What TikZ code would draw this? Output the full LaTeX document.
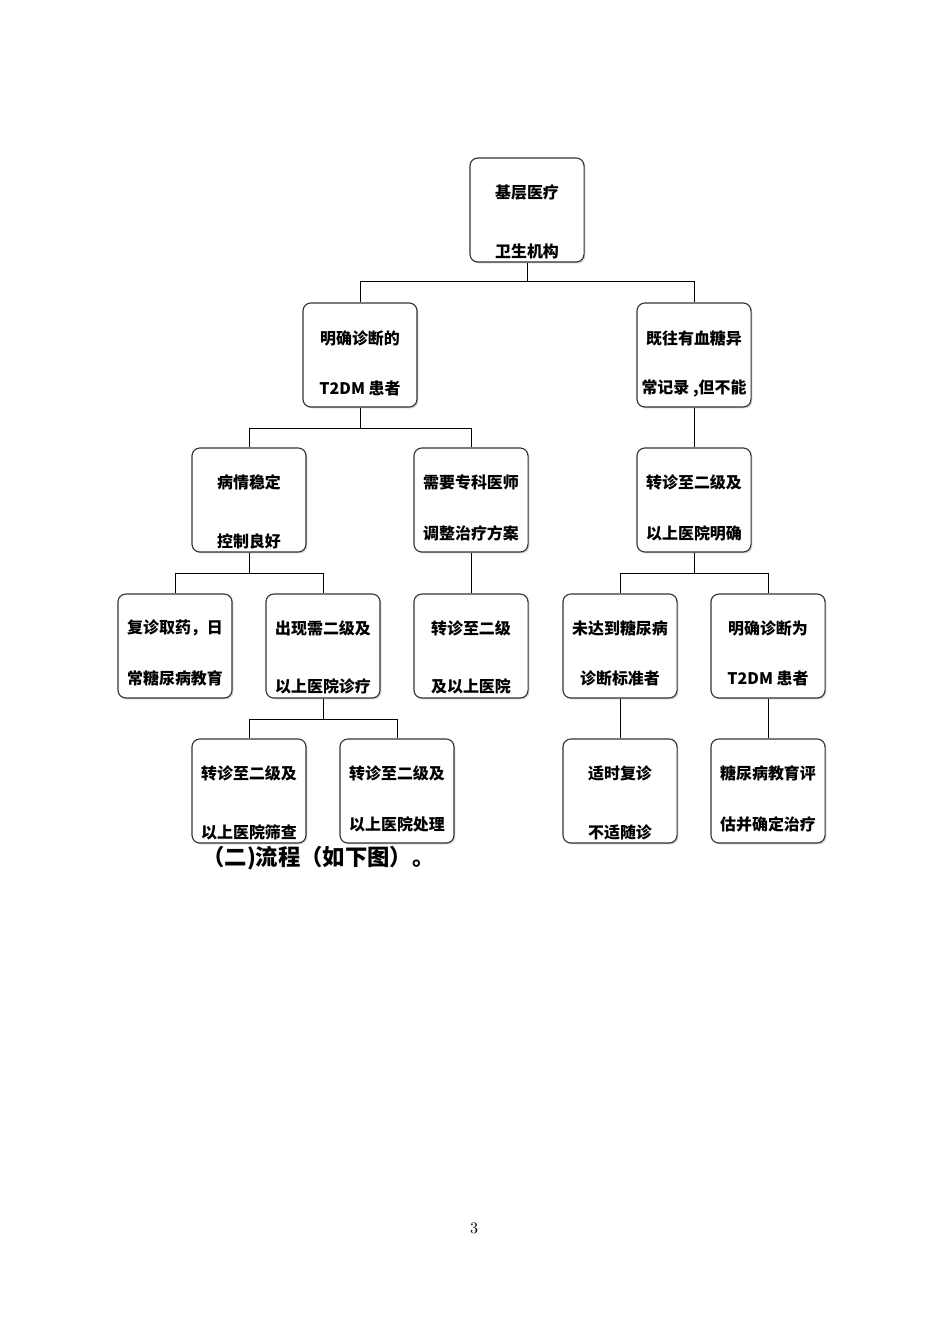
\documentclass[tikz,border=0pt]{standalone}
\usepackage{fontspec}
\newfontfamily\cjk{Noto Sans CJK SC}
\usetikzlibrary{shadows}

\begin{document}
\begin{tikzpicture}[x=0.6266pt,y=-0.6266pt,
    box/.style={draw=black!80,line width=0.7pt,rounded corners=5pt,fill=white,
      minimum width=71.5pt,minimum height=65.2pt,
      drop shadow={shadow xshift=0.9pt,shadow yshift=-0.9pt,opacity=0.35}},
    txt/.style={inner sep=0pt,font=\cjk\bfseries\fontsize{10}{12}\selectfont},
    link/.style={line width=0.6pt}]
                      \useasboundingbox (0,0) rectangle (950,1344);
                      % boxes
                      \node[box](top)at(527,210){};
                      \node[txt](top1)at(527,192){基层医疗};
                      \node[txt](top2)at(527,251){卫生机构};
                      \node[box](mz)at(360,355){};
                      \node[txt](mz1)at(360,338){明确诊断的};
                      \node[txt](mz2)at(360,388){T2DM 患者};
                      \node[box](jw)at(694,355){};
                      \node[txt](jw1)at(694,338){既往有血糖异};
                      \node[txt](jw2)at(694,388){常记录 ,但不能};
                      \node[box](bq)at(249,500){};
                      \node[txt](bq1)at(249,482){病情稳定};
                      \node[txt](bq2)at(249,541){控制良好};
                      \node[box](xy)at(471,500){};
                      \node[txt](xy1)at(471,482){需要专科医师};
                      \node[txt](xy2)at(471,533){调整治疗方案};
                      \node[box](zm)at(694,500){};
                      \node[txt](zm1)at(694,482){转诊至二级及};
                      \node[txt](zm2)at(694,533){以上医院明确};
                      \node[box](fz)at(175,646){};
                      \node[txt](fz1)at(175,628){复诊取药，日};
                      \node[txt](fz2)at(175,678){常糖尿病教育};
                      \node[box](cx)at(323,646){};
                      \node[txt](cx1)at(323,628){出现需二级及};
                      \node[txt](cx2)at(323,686){以上医院诊疗};
                      \node[box](zy)at(471,646){};
                      \node[txt](zy1)at(471,628){转诊至二级};
                      \node[txt](zy2)at(471,686){及以上医院};
                      \node[box](wd)at(620,646){};
                      \node[txt](wd1)at(620,628){未达到糖尿病};
                      \node[txt](wd2)at(620,678){诊断标准者};
                      \node[box](mq)at(768,646){};
                      \node[txt](mq1)at(768,628){明确诊断为};
                      \node[txt](mq2)at(768,678){T2DM 患者};
                      \node[box](sc)at(249,791){};
                      \node[txt](sc1)at(249,773){转诊至二级及};
                      \node[txt](sc2)at(249,832){以上医院筛查};
                      \node[box](cl)at(397,791){};
                      \node[txt](cl1)at(397,773){转诊至二级及};
                      \node[txt](cl2)at(397,824){以上医院处理};
                      \node[box](ss)at(620,791){};
                      \node[txt](ss1)at(620,773){适时复诊};
                      \node[txt](ss2)at(620,832){不适随诊};
                      \node[box](jy)at(768,791){};
                      \node[txt](jy1)at(768,773){糖尿病教育评};
                      \node[txt](jy2)at(768,824){估并确定治疗};
                      % connectors
                      \draw[link] (top.south) -- ++(0,19) -| (mz.north);
                      \draw[link] (top.south) -- ++(0,19) -| (jw.north);
                      \draw[link] (mz.south) -- ++(0,21) -| (bq.north);
                      \draw[link] (mz.south) -- ++(0,21) -| (xy.north);
                      \draw[link] (jw.south) -- (zm.north);
                      \draw[link] (bq.south) -- ++(0,21) -| (fz.north);
                      \draw[link] (bq.south) -- ++(0,21) -| (cx.north);
                      \draw[link] (xy.south) -- (zy.north);
                      \draw[link] (zm.south) -- ++(0,21) -| (wd.north);
                      \draw[link] (zm.south) -- ++(0,21) -| (mq.north);
                      \draw[link] (cx.south) -- ++(0,21) -| (sc.north);
                      \draw[link] (cx.south) -- ++(0,21) -| (cl.north);
                      \draw[link] (wd.south) -- (ss.north);
                      \draw[link] (mq.south) -- (jy.north);
                      % caption and page number
                      \node[anchor=west,inner sep=0pt,font=\cjk\bfseries\fontsize{14}{17}\selectfont](cap)at(202,858){（二)流程（如下图）。};
                      \node[inner sep=0pt,font=\fontsize{10}{12}\selectfont](pg)at(474,1228){3};
                  \end{tikzpicture}
\end{document}
